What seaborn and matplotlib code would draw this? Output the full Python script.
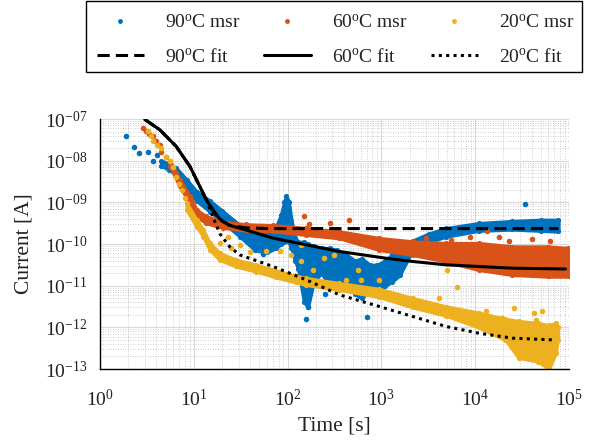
import numpy as np
import pandas as pd
import seaborn as sns
import matplotlib.pyplot as plt
from matplotlib.lines import Line2D
from matplotlib.patches import Rectangle
from matplotlib.ticker import LogLocator, FuncFormatter, NullFormatter

# --- colours (MATLAB defaults) ---
c90, c60, c20 = "#0072BD", "#D95319", "#EDB120"

# --- 90C measurement: loose points (time s, log10 current A) ---
b_pts_t = [1.89, 2.32, 2.6, 3.22, 3.63, 4.07, 158, 165, 710, 190, 33800, 55, 250]
b_pts_log = [-7.40, -7.68, -7.82, -7.80, -8.0, -7.86, -11.8, -11.5, -11.75, -10.6, -9.04, -10.25, -11.2]
# dense cloud envelope
b_band_t = [4.5, 5.5, 6.5, 8.4, 10.7, 14.8, 20, 31, 45, 60, 75, 85, 92, 97, 103, 110, 120,
            130, 150, 165, 190, 230, 280, 340, 420, 520, 620, 750, 900, 1100, 1300, 1560,
            2150, 3200, 4900, 10900, 24900, 50000, 77000]
b_band_hi = [-8.0, -8.08, -8.18, -8.46, -8.74, -8.96, -9.2, -9.55, -9.7, -9.72, -9.6, -9.3,
             -9.0, -8.84, -9.0, -9.45, -9.85, -9.95, -9.95, -10.0, -10.05, -10.1, -10.1,
             -10.15, -10.25, -10.4, -10.35, -10.5, -10.5, -10.4, -10.25, -10.1, -9.92,
             -9.75, -9.62, -9.5, -9.45, -9.42, -9.42]
b_band_lo = [-8.12, -8.22, -8.34, -8.68, -8.96, -9.22, -9.46, -9.82, -10.15, -10.2, -10.1,
             -10.0, -9.95, -9.9, -9.95, -10.1, -10.4, -10.6, -11.4, -11.5, -10.9, -10.7,
             -11.0, -11.0, -10.9, -11.2, -11.3, -11.1, -11.15, -11.0, -10.9, -10.75,
             -10.15, -9.95, -9.82, -9.68, -9.65, -9.68, -9.70]

# --- 60C measurement ---
o_pts_t = [2.89, 3.1, 3.3, 3.66, 4.0, 4.35, 4.5, 5.0, 150, 171, 280, 455,
           3000, 5500, 8900, 13300, 18000, 23000, 40000, 63000]
o_pts_log = [-7.22, -7.28, -7.35, -7.42, -7.52, -7.62, -7.8, -7.92, -9.33, -9.52, -9.50, -9.42,
             -9.85, -9.9, -9.82, -9.70, -9.82, -9.94, -9.88, -9.94]
o_band_t = [5.55, 7.1, 9.1, 10.7, 13.6, 20.5, 36, 70, 158, 357, 950, 2150, 4900, 10900,
            24900, 60000, 98000]
o_band_hi = [-8.0, -8.46, -8.86, -9.18, -9.34, -9.47, -9.53, -9.55, -9.62, -9.7, -9.86,
             -9.94, -9.98, -9.98, -10.06, -10.06, -10.1]
o_band_lo = [-8.12, -8.62, -9.02, -9.34, -9.5, -9.61, -9.67, -9.69, -9.78, -9.86, -10.14,
             -10.26, -10.42, -10.62, -10.74, -10.78, -10.78]

# --- 20C measurement ---
y_pts_t = [3.27, 3.5, 3.69, 4.1, 4.5, 5.1, 5.6, 6.0, 6.5, 7.0, 7.4, 8.0,
           18.9, 23, 25, 30.8, 40, 59, 82, 109, 139, 139, 186, 245, 316, 420, 560, 610, 950,
           4100, 5000, 6400, 13000, 19300, 26000, 42000, 44000, 51000]
y_pts_log = [-7.30, -7.42, -7.54, -7.62, -7.70, -7.90, -8.0, -8.14, -8.38, -8.55, -8.70, -8.9,
             -9.98, -9.82, -10.1, -10.02, -10.2, -10.18, -10.18, -10.26, -10.02, -10.42, -10.62,
             -10.34, -10.26, -10.86, -10.62, -10.86, -10.86,
             -11.3, -10.62, -11.03, -11.62, -11.78, -11.54, -11.66, -11.82, -11.62]
y_band_t = [8.4, 10.7, 12.6, 14.8, 18.9, 28.4, 46.4, 75.6, 123, 158, 357, 950, 2160, 4900,
            10900, 21000, 29000, 47000, 61000, 72000, 76000]
y_band_hi = [-9.02, -9.42, -9.66, -9.98, -10.22, -10.38, -10.5, -10.64, -10.76, -10.82,
             -10.94, -11.08, -11.3, -11.5, -11.65, -11.8, -11.85, -11.9, -11.95, -11.9, -12.0]
y_band_lo = [-9.18, -9.58, -9.82, -10.14, -10.38, -10.54, -10.66, -10.8, -10.92, -10.98,
             -11.1, -11.27, -11.52, -11.72, -12.0, -12.3, -12.73, -12.82, -13.0, -12.62, -12.3]

# --- fits ---
fit90_t = [3, 4.35, 6.5, 9.1, 11.6, 13.6, 16, 18.9, 24, 35, 60, 200, 1000, 10000, 77000]
fit90_log = [-7.01, -7.26, -7.66, -8.14, -8.62, -8.94, -9.20, -9.42, -9.55, -9.61, -9.63,
             -9.63, -9.63, -9.63, -9.63]
fit60_t = [3, 4.35, 6.5, 9.1, 11.6, 13.6, 16, 18.9, 24, 38, 70, 158, 357, 1110, 2160, 4900,
           10900, 24900, 92000]
fit60_log = [-7.01, -7.26, -7.66, -8.14, -8.62, -8.94, -9.18, -9.40, -9.55, -9.68, -9.86,
             -10.02, -10.18, -10.34, -10.42, -10.50, -10.54, -10.58, -10.60]
fit20_t = [3, 4.35, 6.5, 9.1, 11.6, 13.6, 16, 18.9, 24, 30.8, 70, 158, 357, 950, 2160, 4900,
           10900, 24900, 66000]
fit20_log = [-7.01, -7.26, -7.66, -8.14, -8.62, -8.94, -9.35, -9.75, -10.06, -10.26, -10.54,
             -10.86, -11.22, -11.5, -11.74, -11.98, -12.14, -12.26, -12.30]

labels_msr = ["90$^{\\mathrm{o}}$C msr", "60$^{\\mathrm{o}}$C msr", "20$^{\\mathrm{o}}$C msr"]
labels_fit = ["90$^{\\mathrm{o}}$C fit", "60$^{\\mathrm{o}}$C fit", "20$^{\\mathrm{o}}$C fit"]

# --- style ---
sns.set_style("white")
plt.rcParams["font.family"] = ["Liberation Serif", "DejaVu Serif"]
plt.rcParams["mathtext.fontset"] = "custom"
plt.rcParams["mathtext.rm"] = "Liberation Serif"
plt.rcParams["mathtext.it"] = "Liberation Serif:italic"
plt.rcParams["mathtext.bf"] = "Liberation Serif:bold"

fig = plt.figure(figsize=(6.01, 4.40), dpi=100)
ax = fig.add_axes([100 / 601, 1 - 369 / 440, 469 / 601, 250 / 440])
ax.set_xscale("log")
ax.set_yscale("log")

series = [
    (c90, b_pts_t, b_pts_log, b_band_t, b_band_lo, b_band_hi),
    (c60, o_pts_t, o_pts_log, o_band_t, o_band_lo, o_band_hi),
    (c20, y_pts_t, y_pts_log, y_band_t, y_band_lo, y_band_hi),
]
for col, pt, plog, bt, blo, bhi in series:
    lo = 10.0 ** np.array(blo)
    hi = 10.0 ** np.array(bhi)
    ax.fill_between(bt, lo, hi, color=col, lw=2.5, edgecolor=col, zorder=2)
    sns.scatterplot(x=bt + bt, y=np.concatenate([lo, hi]), ax=ax, color=col, s=14,
                    linewidth=0, zorder=2)
    sns.scatterplot(x=pt, y=10.0 ** np.array(plog), ax=ax, color=col, s=16,
                    linewidth=0, zorder=2)

fit_styles = [
    (fit90_t, fit90_log, (0, (4, 2))),
    (fit60_t, fit60_log, "-"),
    (fit20_t, fit20_log, (0, (1, 1.4))),
]
for ft, flog, ls in fit_styles:
    sns.lineplot(x=ft, y=10.0 ** np.array(flog), ax=ax, color="black", lw=2.2,
                 linestyle=ls, sort=False, estimator=None, zorder=3)

ax.set_xlim(1, 1e5)
ax.set_ylim(1e-13, 1e-7)

ax.xaxis.set_major_locator(LogLocator(base=10, numticks=10))
ax.xaxis.set_minor_locator(LogLocator(base=10, subs=np.arange(2, 10), numticks=20))
ax.yaxis.set_major_locator(LogLocator(base=10, numticks=10))
ax.yaxis.set_minor_locator(LogLocator(base=10, subs=np.arange(2, 10), numticks=20))
ax.xaxis.set_major_formatter(FuncFormatter(lambda v, p: f"$10^{{{int(round(np.log10(v)))}}}$"))
ax.yaxis.set_major_formatter(
    FuncFormatter(lambda v, p: f"$10^{{-{int(round(-np.log10(v))):02d}}}$"))
ax.xaxis.set_minor_formatter(NullFormatter())
ax.yaxis.set_minor_formatter(NullFormatter())

ax.grid(which="major", color="#d9d9d9", lw=0.8, ls="-")
ax.grid(which="minor", color="#bdbdbd", lw=0.6, ls=(0, (1, 2)))
ax.set_axisbelow(True)

for s in ["top", "right"]:
    ax.spines[s].set_visible(False)
for s in ["left", "bottom"]:
    ax.spines[s].set_color("black")
    ax.spines[s].set_linewidth(1.0)
ax.tick_params(which="both", direction="in", colors="black", labelcolor="#222222",
               labelsize=14)
ax.tick_params(axis="x", which="major", pad=14)
ax.tick_params(axis="y", which="major", pad=9)
ax.tick_params(which="major", length=4, width=0.8)
ax.tick_params(which="minor", length=2, width=0.6)

ax.set_xlabel("Time [s]", fontsize=15.5, color="#222222", labelpad=5)
ax.set_ylabel("Current [A]", fontsize=15.5, color="#222222", labelpad=8)

# --- legend ---
handles, labels = [], []
for col, lm, ls, lf in zip([c90, c60, c20], labels_msr,
                           [(0, (4, 2)), "-", (0, (1, 1.4))], labels_fit):
    handles.append(Line2D([], [], color=col, marker="o", ls="none", markersize=3.5,
                          markeredgewidth=0))
    labels.append(lm)
    handles.append(Line2D([], [], color="black", lw=2.2, ls=ls))
    labels.append(lf)
leg = fig.legend(handles, labels, ncol=3, loc="upper left", mode="expand",
                 bbox_to_anchor=(97 / 601, 1 - 14 / 440, 478 / 601, 0.0),
                 fontsize=14, frameon=False,
                 handlelength=2.4, handletextpad=1.1, labelspacing=0.85,
                 borderpad=0, borderaxespad=0)
for t in leg.get_texts():
    t.set_color("#222222")
fig.patches.append(Rectangle((86 / 601, 1 - 72 / 440), 496 / 601, 71 / 440,
                             transform=fig.transFigure, fill=False, ec="black", lw=1.0))

fig.savefig("out.png", dpi=100)
plt.close(fig)
